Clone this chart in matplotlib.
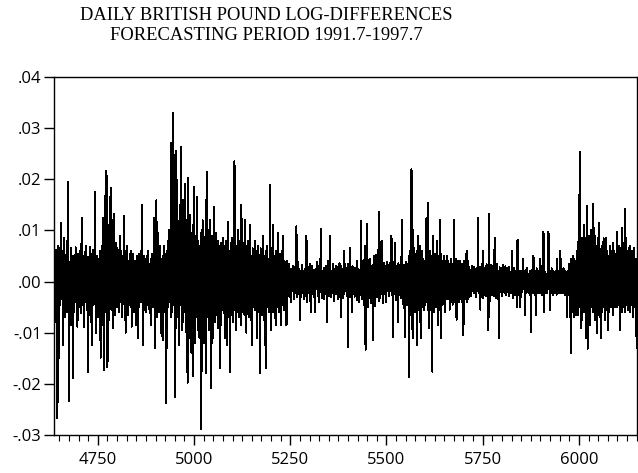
import numpy as np
import matplotlib
matplotlib.use("Agg")
import matplotlib.pyplot as plt
from matplotlib.ticker import MultipleLocator, FuncFormatter

# daily log-differences of GBP, in basis points (1e-4)
first_obs = 4636
bp = [
    -40, 55, -80, 30, 62, -25, 10, -65, 48, -267, 35, 70, -30, -149, 58, 22, -45, 80, -20, 114,
    -35, 60, 15, -50, -124, 40, 85, -20, 30, -70, 52, -15, 45, -60, 25, 70, 194, 150, -40, -233,
    20, -55, 38, -20, 65, -85, 12, 42, -30, -188, 50, -10, 35, -60, 28, -40, 67, -25, 48, -70,
    30, -88, 55, -15, 40, -50, 22, 60, -35, 18, -62, 45, 124, 90, -30, 50, -45, 20, -88, 35,
    -20, 58, -40, 25, 70, -55, 15, -30, -176, 48, 36, -65, 20, 67, -22, 40, -80, 30, -124, 55,
    -38, 20, 62, -45, 28, -15, 175, 40, -60, 25, -100, 50, -20, 35, -70, 45, 10, -55, 30, -25,
    60, -149, 35, -40, 70, 25, -85, 45, 124, -30, -173, 80, 55, -60, 216, 100, -50, 130, 206, -167,
    90, -40, 110, 65, -75, 30, 85, 184, 40, -55, 120, -35, 60, -90, 45, -20, 133, 30, -65, 50,
    -30, 75, 20, -45, -50, 65, -25, 35, 55, -60, 40, 90, -20, -40, 30, 60, -70, 25, 45, -35,
    50, -25, 128, -45, 60, 20, -100, 45, -30, 70, -55, 15, 40, -65, 35, 25, -45, 55, -20, 30,
    -50, 60, -88, 35, 20, -45, 55, -30, 40, -60, 25, -15, 40, -85, 30, 50, -40, 20, -110, 45,
    -25, 55, -50, 30, 15, -40, 60, -35, 25, 149, 40, -124, 35, -20, 50, -55, 30, 45, -60, 20,
    -30, 40, 50, -45, 25, 60, -40, 20, -55, 35, 15, -85, 45, -25, 55, -35, 30, -50, 40, -20,
    124, 60, -130, 35, -40, 80, 159, 50, -70, 30, 95, -45, 25, -60, 40, -35, 70, -100, 45, 20,
    -55, 35, -115, 50, -30, 70, -45, 25, 55, -60, 30, 40, -237, 60, -35, 45, 80, -50, 25, 100,
    -40, 100, 55, -70, 271, 90, -60, 150, 120, -45, 329, 180, -30, 110, -226, 140, 60, -90, 255, 85,
    -70, 120, 40, -60, 95, -125, 70, 150, -45, 110, 263, 60, -95, 130, 45, -80, 160, 90, -55, 75,
    190, -60, 85, 40, -100, 120, 55, -198, 70, 202, -45, 90, -110, 60, 130, -75, 40, -139, 95, 30,
    -80, 110, -185, 50, 185, -60, 75, -120, 90, 40, -70, 120, 165, -50, 80, -95, 60, 35, -110, 70,
    -40, 95, 55, -288, 80, -60, 120, 40, -85, 70, -120, 60, 30, -75, 160, -178, 90, -50, 214, 60,
    -70, 100, 45, -95, 80, -55, 120, -40, 65, -208, 90, -60, 75, 35, -110, 55, 146, -45, 70, -80,
    40, 95, -65, 55, -50, 80, -90, 30, 70, -45, 60, -170, 50, -30, 75, -85, 40, 60, -55, 85,
    -40, 65, 30, -60, -110, 70, 45, -50, 80, -35, -125, 55, 116, -70, 40, -45, 60, 30, -177, 75,
    -50, 40, 85, -65, 30, 55, -80, 45, -40, 235, 90, -55, 60, -30, -95, 70, 40, -60, 100, -45,
    55, -70, 35, 80, -50, 45, -85, 150, 30, -60, 65, -40, 75, -55, 40, -65, 120, 50, -45, 70,
    -100, 45, 60, -55, 35, 80, -70, 40, -30, 110, -60, 50, 25, -75, 45, -125, 65, 30, -50, 55,
    -40, 35, 80, -55, 45, -35, 60, 20, -110, 50, -45, 70, 30, -60, 40, -30, -178, 65, 45, -50,
    35, -65, 55, 90, -40, 30, -75, 50, 25, -55, -170, 60, 40, -35, 70, -50, 20, 45, -60, 35,
    -30, 188, 50, -95, 40, -45, 65, -25, 30, 110, -60, 35, 50, -40, 25, -55, -85, 60, 30, -35,
    45, -50, 95, 30, -60, 40, -35, 55, 20, -85, 45, -40, 30, 60, -45, 90, -30, 25, -55, 40,
    -15, 30, 5, -25, -85, 40, -84, 20, 8, -12, 35, 18, -30, 4, -10, 25, -40, 12, 0, 22,
    -18, -6, 30, 14, -35, 10, 28, -8, -22, 15, 108, 20, -30, 6, -14, 38, 2, -25, 12, -75,
    20, -5, 15, -30, 8, 32, -12, -20, 18, 5, -35, 25, 10, -15, -28, 12, 90, 22, -40, 6,
    -10, 28, 14, -22, 4, 35, -18, -60, 20, 8, -6, 30, -25, 12, 0, -30, 22, 16, -60, 10,
    25, -15, -5, 20, 38, -28, 6, -12, 30, -40, 15, 2, -20, 103, 35, -18, 8, -32, 14, 20,
    -8, 26, -35, 10, 18, -4, -25, 30, 12, -15, -80, 22, 40, -10, 5, -28, 16, 90, -22, 6,
    12, -30, 20, 8, -14, 34, -6, -38, 18, 25, -10, 2, -24, 30, 14, -18, 6, 28, -35, 10,
    -5, 22, 36, -15, 8, -70, 18, 30, -20, 4, -32, 16, 10, 60, -25, -8, 14, 34, -18, 5,
    20, -28, 10, 35, -129, 25, -12, 6, 18, 65, -30, 4, -15, 28, 12, -60, 30, -8, 16, -22,
    8, -30, 26, 14, -20, 2, -12, 40, -36, 10, 24, -18, 5, -40, 22, 15, -26, 32, 118, -20,
    28, -35, 12, 40, -22, 6, -45, 55, -123, 70, -133, 35, -30, 112, -28, 42, -50, 18, 38, -32,
    20, -25, 45, -12, 30, -42, 16, 8, -38, -115, 28, 50, -22, 32, -48, 36, 10, -28, 52, -30,
    40, -20, 62, 30, 137, -38, 78, 18, -32, 55, -25, 40, 14, 80, -42, 24, -18, 36, -10, 20,
    -25, 30, -40, 12, 22, -18, 38, -6, 26, 10, -28, 32, -20, 4, 36, -14, 18, 90, -26, 14,
    -30, -109, 38, 20, -24, 42, 8, 75, -36, 26, -18, 30, 12, -26, -80, 36, 18, -12, 32, -26,
    22, -32, 48, -20, 120, 38, -44, 26, -14, 32, -52, 20, 14, -108, 38, -24, 20, -46, 32, 10,
    -45, 35, -186, 50, -40, 60, 30, -65, 45, 220, 80, -70, -110, 100, -50, 40, 65, -45, 30, -60,
    55, -35, 45, 60, -125, 40, 90, -55, 30, -45, 70, 25, -60, -110, 50, -40, 35, 60, -50, 45,
    -30, 40, -55, 35, 25, -45, 60, -35, 125, -40, 55, 30, 153, -50, -90, 45, -35, 60, -25, 40,
    -55, 35, 50, -176, 40, 90, -45, 30, -60, 55, -35, 40, 25, -50, 45, -30, 80, -85, 35, 50,
    -40, 30, -55, 45, 120, -110, 55, -35, 40, 25, -45, 35, -30, 50, 20, -60, 35, -25, 40, -35,
    30, -30, 50, 25, -35, 40, -25, 30, -55, 35, 20, -40, 45, -30, 25, 35, -45, 30, -25, 120,
    40, -35, 30, -40, 45, 25, -75, 35, -30, 40, -25, 20, 35, -40, 40, -30, 25, -35, 30, 20,
    -40, 35, -25, 30, -105, 40, -30, 25, 35, -35, 45, -25, 60, -40, 30, 20, -35, 40, -30, 25,
    -15, 22, 8, -28, 14, -20, 30, -6, 18, -12, 4, 28, -22, 10, -8, 24, -30, 16, 6, -18,
    26, -10, 125, 32, -22, 28, -34, 14, -55, 20, -12, 34, 6, -26, 18, 60, -32, 12, -20, 26,
    -8, 20, -28, 14, 34, -22, 6, -34, 26, -95, 133, 38, -28, 20, -38, 14, 32, -20, 8, -26,
    22, -14, 32, -28, 12, 85, -22, 28, -32, 20, 6, -28, 34, -12, 20, -34, 14, -110, 28, 8,
    -20, 26, -12, 18, 6, -28, 32, -20, 12, -6, 26, -22, 14, 30, -26, 20, -14, 4, 26, -20,
    14, -8, 28, -28, 20, 6, -22, 14, -14, 26, 60, -22, 12, -32, 20, -14, 26, 6, -26, 20,
    -10, 14, -22, 80, -50, 82, -16, 22, 6, -26, 14, -8, -50, 20, 14, -22, 8, -14, 45, -10,
    20, -14, 6, 14, -65, 22, -8, 14, -22, 6, 26, -14, 8, -22, 14, 2, -26, 20, -8, 14,
    -98, 22, -14, 6, 26, -22, 50, -14, 6, -26, 20, 14, -22, -65, 26, -8, 14, -22, 6, 20,
    -14, 6, -22, 14, 45, -14, 20, -6, 14, -26, 6, 20, 98, -14, -60, 20, -8, 14, -22, 6,
    14, -22, 6, -14, 20, 98, -6, 14, -22, -55, 20, 6, -14, 26, -22, 6, 14, -26, 20, -6,
    14, -22, 6, 20, -14, 6, -26, 45, -6, 14, -22, 6, 20, -14, 6, -22, 60, -14, 20, -6,
    14, -22, 6, -14, 26, 6, -22, 14, -26, 20, -6, 14, -22, -70, 20, 14, -26, 20, -14, 35,
    -40, 30, -55, -140, 45, 35, -60, 40, -35, 50, 35, -70, 45, 30, -50, 40, -65, 35, 25, 60,
    45, -65, 30, 80, -50, 55, 253, 70, -40, -90, 60, 45, -75, 85, -55, 40, 70, -60, 110, 50,
    -45, 80, -110, 60, 95, -70, 148, -131, 50, 90, -60, 75, 40, -85, 65, -50, 100, -40, 55, 70,
    151, -60, 80, 45, 105, -75, 50, 90, -55, 40, 70, -100, 60, -45, 85, -65, 50, 115, -70, 40,
    60, -110, 45, 70, -60, 35, 75, -50, 85, -40, 55, -75, 40, 65, 85, -55, 30, -45, 60, -35,
    -95, 50, 40, -60, 70, -45, 35, 60, -50, 45, -40, 55, 75, -65, 40, -35, 60, -50, 30, 45,
    -40, 55, -50, 98, 40, -45, 60, -35, 50, 70, -55, -95, 45, 65, -40, 105, 50, -60, 35, -45,
    55, -50, 75, 40, 143, -60, 85, -45, 60, 35, -45, 50, -55, 65, -40, 45, 70, -60, 35, 40,
    -45, 60, -35, 50, 40, -70, 55, -40, 65, -50, 35, 45, 45, -60, -129,
]

y_ticks = [-0.03, -0.02, -0.01, 0.00, 0.01, 0.02, 0.03, 0.04]
x_ticks = [4750, 5000, 5250, 5500, 5750, 6000]

obs = np.arange(first_obs, first_obs + len(bp))
vals = np.array(bp) / 10000.0

fig = plt.figure(figsize=(6.38, 4.73), dpi=100)
ax = fig.add_axes([54 / 638, 38 / 473, 583 / 638, 358 / 473])

ax.plot(obs, vals, color="black", lw=0.72, antialiased=False)

ax.set_xlim(4636, 6151)
ax.set_ylim(-0.03, 0.04)
ax.set_yticks(y_ticks)
ax.set_xticks(x_ticks)
ax.xaxis.set_minor_locator(MultipleLocator(25))


def yfmt(v, pos):
    s = "%.2f" % v
    if s.startswith("-0"):
        return "-" + s[2:]
    if s.startswith("0"):
        return s[1:]
    return s


ax.yaxis.set_major_formatter(FuncFormatter(yfmt))

tick_font = "Open Sans"
for lab in ax.get_xticklabels() + ax.get_yticklabels():
    lab.set_fontfamily(tick_font)
ax.tick_params(axis="both", which="major", direction="out", length=7, width=1,
               labelsize=12, color="black")
ax.tick_params(axis="x", which="major", pad=5)
ax.tick_params(axis="y", which="major", pad=2)
ax.tick_params(axis="x", which="minor", direction="out", length=4, width=0.8)

for sp in ax.spines.values():
    sp.set_linewidth(1.0)

fig.text(266 / 638, 1 - 15.5 / 473, "DAILY BRITISH POUND LOG-DIFFERENCES",
         ha="center", va="center", fontsize=13.3, family="Liberation Serif")
fig.text(266 / 638, 1 - 36 / 473, "FORECASTING PERIOD 1991.7-1997.7",
         ha="center", va="center", fontsize=13.3, family="Liberation Serif")

fig.savefig("out.png", dpi=100)
